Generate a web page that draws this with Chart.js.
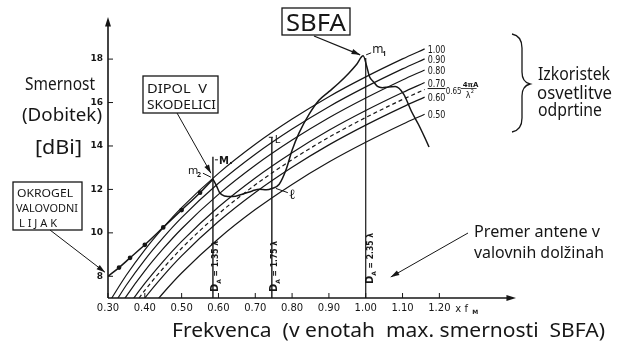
<!DOCTYPE html>
<html>
<head>
<meta charset="utf-8">
<script src="https://cdn.jsdelivr.net/npm/chart.js@4.4.1/dist/chart.umd.min.js"></script>
<style>
  html, body { margin: 0; padding: 0; background: #fff; }
  canvas { display: block; }
</style>
</head>
<body>
<canvas id="myChart" width="625" height="345"></canvas>
<script>
// frequency grid (in units of f_M) where the efficiency lines were read
const freqs = [0.30, 0.35, 0.40, 0.45, 0.50, 0.60, 0.70, 0.80, 0.90, 1.00, 1.10, 1.16]

// gain [dBi] of an aperture with given illumination efficiency
const eff100 = [6.72, 8.06, 9.22, 10.24, 11.16, 12.74, 14.08, 15.24, 16.27, 17.18, 18.01, 18.47]
const eff090 = [6.26, 7.60, 8.76, 9.78, 10.70, 12.28, 13.62, 14.78, 15.81, 16.72, 17.55, 18.01]
const eff080 = [5.75, 7.09, 8.25, 9.27, 10.19, 11.77, 13.11, 14.27, 15.30, 16.21, 17.04, 17.50]
const eff070 = [5.17, 6.51, 7.67, 8.69, 9.61, 11.19, 12.53, 13.69, 14.72, 15.63, 16.46, 16.92]
const eff065 = [4.85, 6.19, 7.35, 8.37, 9.29, 10.87, 12.21, 13.37, 14.40, 15.31, 16.14, 16.60]
const eff060 = [4.50, 5.84, 7.00, 8.02, 8.94, 10.52, 11.86, 13.02, 14.05, 14.96, 15.79, 16.25]
const eff050 = [3.71, 5.05, 6.21, 7.23, 8.15, 9.73, 11.07, 12.23, 13.26, 14.17, 15.00, 15.46]
const effNames = ['1.00', '0.90', '0.80', '0.70', '0.65', '0.60', '0.50']
const effGains = [eff100, eff090, eff080, eff070, eff065, eff060, eff050]

// okrogel valovodni lijak (circular waveguide horn)
const hornFreq = [0.30, 0.33, 0.36, 0.40, 0.45, 0.50, 0.55, 0.585]
const hornGain = [8.00, 8.40, 8.85, 9.45, 10.25, 11.05, 11.85, 12.47]

// SBFA
const sbfaFreq = [0.585, 0.595, 0.603, 0.616, 0.638, 0.665, 0.692, 0.711, 0.730, 0.745, 0.765, 0.784, 0.800, 0.819, 0.846, 0.873, 0.900, 0.927, 0.954, 0.975, 0.993, 1.003, 1.010, 1.022, 1.032, 1.045, 1.062, 1.080, 1.103, 1.124, 1.143, 1.160, 1.172]
const sbfaGain = [12.47, 12.15, 11.86, 11.70, 11.67, 11.78, 11.93, 12.01, 11.98, 12.04, 12.24, 12.93, 13.80, 14.60, 15.45, 16.10, 16.50, 16.90, 17.35, 17.75, 18.15, 17.65, 17.20, 16.94, 16.74, 16.68, 16.72, 16.74, 16.39, 15.60, 15.00, 14.40, 13.95]

// vertical markers (antenna diameter in wavelengths)
const markFreq = [0.585, 0.745, 1.00]
const markTop = [13.5, 14.4, 18.05]
const markText = ['1.35', '1.75', '2.35']

const xTicks = [0.30, 0.40, 0.50, 0.60, 0.70, 0.80, 0.90, 1.00, 1.10, 1.20]
const yTicks = [8, 10, 12, 14, 16, 18]

const ink = '#161616'
const hand = '"Noto Sans", sans-serif'
const mono = '"DejaVu Sans", sans-serif'

function txt(c, str, x, y, size, opt) {
  opt = opt || {}
  c.save()
  c.font = (opt.weight || '') + ' ' + size + 'px ' + (opt.family || hand)
  c.textAlign = 'left'
  c.textBaseline = opt.baseline || 'alphabetic'
  const w = c.measureText(str).width
  const sx = opt.width ? opt.width / w : (opt.sx || 1)
  c.translate(x, y)
  c.scale(sx, 1)
  c.fillText(str, 0, 0)
  c.restore()
  return w * sx
}

function head(c, x, y, ang, len) {
  c.beginPath()
  c.moveTo(x, y)
  c.lineTo(x - len * Math.cos(ang - 0.3), y - len * Math.sin(ang - 0.3))
  c.lineTo(x - len * Math.cos(ang + 0.3), y - len * Math.sin(ang + 0.3))
  c.closePath()
  c.fill()
}

function arrow(c, x0, y0, x1, y1) {
  c.beginPath(); c.moveTo(x0, y0); c.lineTo(x1, y1); c.stroke()
  head(c, x1, y1, Math.atan2(y1 - y0, x1 - x0), 9)
}

function seg(c, x0, y0, x1, y1) {
  c.beginPath(); c.moveTo(x0, y0); c.lineTo(x1, y1); c.stroke()
}

const notes = {
  id: 'notes',
  afterDraw(chart) {
    const c = chart.ctx
    const xs = chart.scales.x, ys = chart.scales.y
    const px = v => xs.getPixelForValue(v)
    const py = v => ys.getPixelForValue(v)
    const {left, right, top, bottom} = chart.chartArea
    c.save()
    c.strokeStyle = ink
    c.fillStyle = ink

    // axes
    c.lineWidth = 1.6
    seg(c, left, bottom, left, top + 2)
    seg(c, left, bottom, right, bottom)
    head(c, left, top - 3, -Math.PI / 2, 10)
    head(c, right + 3, bottom, 0, 10)
    c.lineWidth = 1
    yTicks.forEach(v => seg(c, left, py(v), left + 5, py(v)))
    xTicks.forEach(v => seg(c, px(v), bottom, px(v), bottom - 5))
    txt(c, 'x f', px(1.2) + 16, bottom + 14, 10, {family: mono})
    txt(c, 'M', px(1.2) + 33, bottom + 16, 6, {family: mono, weight: 'bold'})

    // efficiency labels at the right end of the lines
    const ex = px(1.16)
    effNames.forEach((n, i) => {
      const g = effGains[i]
      const y = py(g[g.length - 1]) + 4
      if (n === '0.65') {
        txt(c, '0.65', ex + 21, y, 9, {family: mono, sx: 0.8})
        return
      }
      const w = txt(c, n, ex + 3, y, 10, {family: mono, sx: 0.8})
      if (n === '0.70') seg(c, ex + 3, y + 2, ex + 3 + w, y + 2)
    })
    const fy = py(eff065[eff065.length - 1])
    txt(c, '4πA', ex + 38, fy - 3, 7, {family: mono, weight: 'bold'})
    c.lineWidth = 0.8
    seg(c, ex + 36, fy - 1, ex + 52, fy - 1)
    txt(c, 'λ', ex + 41, fy + 8, 8, {family: mono})
    txt(c, '2', ex + 46, fy + 3, 5, {family: mono})

    // brace
    c.lineWidth = 1.3
    c.beginPath()
    c.moveTo(512, 34)
    c.quadraticCurveTo(522, 36, 522, 48)
    c.lineTo(522, 72)
    c.quadraticCurveTo(522, 82, 530, 84)
    c.quadraticCurveTo(522, 86, 522, 96)
    c.lineTo(522, 118)
    c.quadraticCurveTo(522, 130, 512, 132)
    c.stroke()
    txt(c, 'Izkoristek', 538, 80, 18, {width: 72})
    txt(c, 'osvetlitve', 537, 99, 18, {width: 75})
    txt(c, 'odprtine', 538, 116, 18, {width: 64})

    // axis titles
    txt(c, 'Smernost', 25, 90, 18, {width: 70})
    txt(c, '(Dobitek)', 22, 121, 18, {width: 80})
    txt(c, '[dBi]', 35, 154, 19, {width: 47})
    txt(c, 'Frekvenca  (v enotah  max. smernosti  SBFA)', 172, 337, 20, {width: 433})

    // diameter markers
    markFreq.forEach((f, i) => {
      c.save()
      c.translate(px(f) + (i === 2 ? 7 : 5), bottom - (i === 2 ? 14 : 6))
      c.rotate(-Math.PI / 2)
      let x = txt(c, 'D', 0, 0, 10, {family: mono, weight: 'bold'})
      x += txt(c, 'A', x, 3, 6, {family: mono, weight: 'bold'})
      txt(c, ' = ' + markText[i] + ' λ', x, 0, 9, {family: mono, weight: 'bold', sx: 0.85})
      c.restore()
    })
    txt(c, 'Premer antene v', 474, 237, 16, {width: 126})
    txt(c, 'valovnih dolžinah', 474, 258, 16, {width: 130})
    c.lineWidth = 1
    arrow(c, 468, 233, px(1.0) + 25, bottom - 21)

    // boxed captions
    c.lineWidth = 1.3
    c.strokeRect(282, 8, 68, 27)
    txt(c, 'SBFA', 286, 31, 24, {width: 60})
    arrow(c, 314, 36, px(0.993) - 3, py(18.15) - 1)
    c.strokeRect(143, 76, 75, 37)
    txt(c, 'DIPOL  V', 147, 93, 12, {width: 60})
    txt(c, 'SKODELICI', 147, 109, 12, {width: 69})
    c.lineWidth = 1
    arrow(c, 177, 113, px(0.585) - 2, py(12.47) - 6)
    c.lineWidth = 1.3
    c.strokeRect(13, 182, 69, 48)
    txt(c, 'OKROGEL', 17, 197, 11, {width: 56})
    txt(c, 'VALOVODNI', 16, 212, 11, {width: 62})
    txt(c, 'L I J A K', 19, 227, 11, {width: 38})
    c.lineWidth = 1
    arrow(c, 50, 230, px(0.30) - 3, py(8.0) - 4)

    // point labels
    seg(c, px(0.993) + 3, py(18.15) - 1, px(0.993) + 8, py(18.15) - 3)
    txt(c, 'm', px(0.993) + 9, py(18.15) - 3, 12)
    txt(c, '1', px(0.993) + 19, py(18.15) + 0, 7, {weight: 'bold'})
    txt(c, 'm', px(0.585) - 25, py(12.47) - 5, 11)
    txt(c, '2', px(0.585) - 16, py(12.47) - 2, 7, {weight: 'bold'})
    seg(c, px(0.585) - 10, py(12.47) - 6, px(0.585) - 2, py(12.47) - 2)
    seg(c, px(0.585) + 2, py(13.5) + 3, px(0.585) + 5, py(13.5) + 3)
    txt(c, 'M.', px(0.585) + 6, py(13.5) + 7, 10, {family: mono, weight: 'bold'})
    seg(c, px(0.745) - 3, py(14.4), px(0.745) + 1, py(14.4))
    txt(c, 'L', px(0.745) + 3, py(14.4) + 6, 11)
    seg(c, px(0.745) + 4, py(12.0) - 1, px(0.745) + 16, py(11.85))
    txt(c, 'ℓ', px(0.745) + 17, py(11.72) + 4, 14, {family: 'DejaVu Serif'})
    c.restore()
  }
}

const ctx = document.getElementById('myChart')
const datasets = effNames.map((n, i) => ({
  label: n,
  data: freqs.map((f, j) => ({x: f, y: effGains[i][j]})),
  borderColor: ink,
  borderWidth: 1.2,
  borderDash: n === '0.65' ? [4, 3] : [],
  pointRadius: 0,
  cubicInterpolationMode: 'monotone'
}))
datasets.push({
  label: 'lijak',
  data: hornFreq.map((f, j) => ({x: f, y: hornGain[j]})),
  borderColor: ink,
  backgroundColor: ink,
  borderWidth: 1.5,
  pointRadius: hornFreq.map((f, j) => (j === 0 || j === hornFreq.length - 1) ? 0 : 1.6),
  cubicInterpolationMode: 'monotone'
})
datasets.push({
  label: 'SBFA',
  data: sbfaFreq.map((f, j) => ({x: f, y: sbfaGain[j]})),
  borderColor: ink,
  borderWidth: 1.5,
  pointRadius: 0,
  cubicInterpolationMode: 'monotone'
})
markFreq.forEach((f, i) => {
  datasets.push({
    label: 'D' + i,
    data: [{x: f, y: 7}, {x: f, y: markTop[i]}],
    borderColor: ink,
    borderWidth: i === 2 ? 1.2 : 1.4,
    pointRadius: 0
  })
})

const chart = new Chart(ctx, {
  type: 'line',
  data: {datasets: datasets},
  options: {
    responsive: false,
    animation: false,
    layout: {padding: {left: 88, right: 112, top: 20, bottom: 27}},
    plugins: {legend: {display: false}, tooltip: {enabled: false}},
    scales: {
      x: {
        type: 'linear', min: 0.30, max: 1.40,
        afterFit: s => { s.height = 20 },
        afterBuildTicks: s => { s.ticks = xTicks.map(v => ({value: v})) },
        grid: {display: false, drawTicks: false},
        border: {display: false},
        ticks: {padding: 4, color: ink, maxRotation: 0, autoSkip: false,
                font: {family: 'DejaVu Sans', size: 10}, callback: v => v.toFixed(2)}
      },
      y: {
        type: 'linear', min: 7.0, max: 19.8,
        afterFit: s => { s.width = 20 },
        afterBuildTicks: s => { s.ticks = yTicks.map(v => ({value: v})) },
        grid: {display: false, drawTicks: false},
        border: {display: false},
        ticks: {padding: 5, color: ink, font: {family: 'DejaVu Sans', size: 9, weight: 'bold'}}
      }
    }
  },
  plugins: [notes]
})
</script>
</body>
</html>
